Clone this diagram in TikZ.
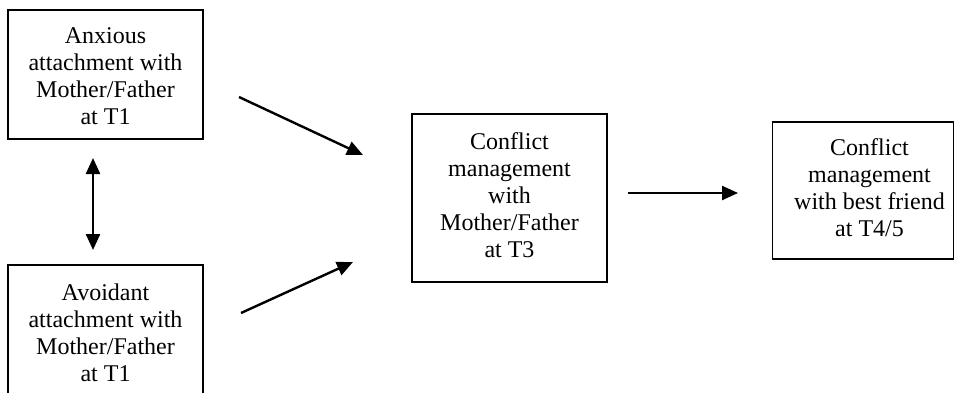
\documentclass[tikz,border=0pt]{standalone}
\usepackage{fontspec}
\setmainfont{Liberation Serif}
\usetikzlibrary{arrows.meta}
\begin{document}
\begin{tikzpicture}[x=1pt,y=-1pt,
  box/.style={draw=black, line width=1.3pt, rectangle, inner sep=0pt},
  txt/.style={align=center, font=\fontsize{24}{27}\selectfont, inner sep=0pt},
  tip/.style={Triangle[length=16pt,width=14pt]},
  arr/.style={line width=2.4pt, -{Triangle[length=16pt,width=14pt]}},
  dbl/.style={line width=2.4pt, {Triangle[length=16pt,width=14pt]}-{Triangle[length=16pt,width=14pt]}}]
\useasboundingbox (0,0) rectangle (955,393);
\clip (0,0) rectangle (955,393);
\fill[white] (0,0) rectangle (955,393);

% boxes
\node[box, minimum width=195pt, minimum height=129pt] (anx) at (105.5,74.5) {};
\node[txt] (anxt) at (105.5,76.5) {Anxious\\attachment with\\Mother/Father\\at T1};

\node[box, minimum width=195pt, minimum height=140pt] (avo) at (105.5,335) {};
\node[txt] (avot) at (105.5,332.5) {Avoidant\\attachment with\\Mother/Father\\at T1};

\node[box, minimum width=195pt, minimum height=168pt] (cmp) at (509.5,198) {};
\node[txt] (cmpt) at (509.5,195.5) {Conflict\\management\\with\\Mother/Father\\at T3};

\node[box, minimum width=181pt, minimum height=137pt] (cbf) at (863,190.5) {};
\node[txt] (cbft) at (869.5,187.5) {Conflict\\management\\with best friend\\at T4/5};

% arrow end points
\coordinate (a1s) at (239,97);
\coordinate (a1e) at (363,155);
\coordinate (a2s) at (241,313);
\coordinate (a2e) at (353,262);
\coordinate (a3s) at (628,193);
\coordinate (a3e) at (738,193);
\coordinate (dts) at (93,158);
\coordinate (dte) at (93,250);

% connectors
\draw[arr] (a1s) -- (a1e);
\draw[arr] (a2s) -- (a2e);
\draw[arr] (a3s) -- (a3e);
\draw[dbl] (dts) -- (dte);
\end{tikzpicture}
\end{document}
